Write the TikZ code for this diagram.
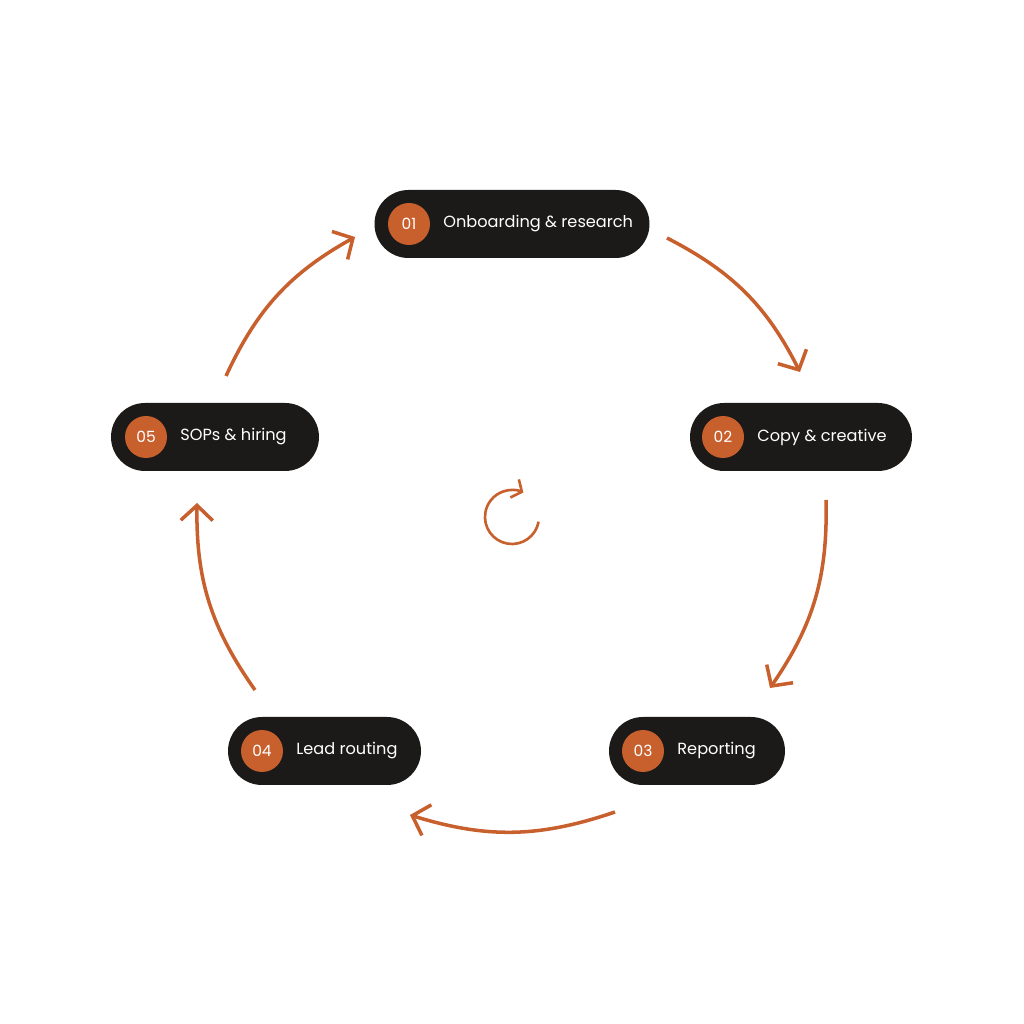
\documentclass[tikz,border=0pt]{standalone}
\usepackage{fontspec}
\setmainfont{Poppins}
\usetikzlibrary{arrows.meta,positioning,calc}
\definecolor{pilldark}{HTML}{1C1A18}
\definecolor{rust}{HTML}{C8602E}
\tikzset{
    pill/.style={draw=none,fill=pilldark,rounded corners=0.34cm,minimum height=0.68cm,text=white,font=\fontsize{5}{6}\selectfont,inner sep=0pt},
    badge/.style={circle,fill=rust,minimum size=0.42cm,inner sep=0pt,text=white,font=\fontsize{4.4}{5}\selectfont},
    label/.style={text=white,font=\fontsize{4.6}{5.5}\selectfont,inner sep=0pt},
    flow/.style={draw=rust,line width=1pt,-{Straight Barb[length=1.5mm,width=3.2mm]}},
  }
\begin{document}
\begin{tikzpicture}
  \useasboundingbox (0,0) rectangle (10.24,10.24);

  %PILLS
  \node[pill,minimum width=2.75cm] (p1) at (5.12,8.00) {};
  \node[pill,minimum width=2.22cm] (p2) at (8.01,5.87) {};
  \node[pill,minimum width=1.76cm] (p3) at (6.97,2.73) {};
  \node[pill,minimum width=1.93cm] (p4) at (3.245,2.73) {};
  \node[pill,minimum width=2.08cm] (p5) at (2.15,5.87) {};

  %BADGES
  \node[badge] (b1) at (4.09,8.00) {01};
  \node[badge] (b2) at (7.23,5.87) {02};
  \node[badge] (b3) at (6.43,2.73) {03};
  \node[badge] (b4) at (2.62,2.73) {04};
  \node[badge] (b5) at (1.46,5.87) {05};

  %LABELS
  \node[right=0.12cm of b1,label] (t1) {Onboarding \& research};
  \node[right=0.12cm of b2,label] (t2) {Copy \& creative};
  \node[right=0.12cm of b3,label] (t3) {Reporting};
  \node[right=0.12cm of b4,label] (t4) {Lead routing};
  \node[right=0.12cm of b5,label] (t5) {SOPs \& hiring};

  %ARROW ENDS
  \coordinate (s1) at (6.67,7.86); \coordinate (e1) at (8.00,6.52);
  \coordinate (s2) at (8.26,5.24); \coordinate (e2) at (7.70,3.36);
  \coordinate (s3) at (6.15,2.12); \coordinate (e3) at (4.10,2.09);
  \coordinate (s4) at (2.55,3.34); \coordinate (e4) at (1.97,5.21);
  \coordinate (s5) at (2.26,6.48); \coordinate (e5) at (3.55,7.87);

  %CYCLE
  \draw[flow] (s1) to[bend left=18] (e1);
  \draw[flow] (s2) to[bend left=18] (e2);
  \draw[flow] (s3) to[bend left=18] (e3);
  \draw[flow] (s4) to[bend left=18] (e4);
  \draw[flow] (s5) to[bend left=18] (e5);

  %CENTER ICON
  \coordinate (c) at (5.12,5.07);
  \draw[draw=rust,line width=0.75pt,-{Straight Barb[length=0.8mm,width=2mm]}]
    ($(c)+(-10:0.27)$) arc[radius=0.27,start angle=-10,end angle=-295];
\end{tikzpicture}
\end{document}
